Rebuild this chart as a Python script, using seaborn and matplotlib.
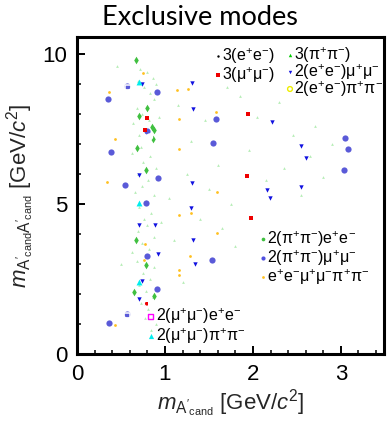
import numpy as np
import pandas as pd
import matplotlib
matplotlib.use("Agg")
import matplotlib.pyplot as plt
import seaborn as sns
from matplotlib.ticker import MultipleLocator

sns.set_theme(style="white")
plt.rcParams['font.family'] = ['Liberation Sans', 'DejaVu Sans']
plt.rcParams['mathtext.fontset'] = 'custom'
plt.rcParams['mathtext.rm'] = 'Liberation Sans'
plt.rcParams['mathtext.it'] = 'Liberation Sans:italic'
plt.rcParams['mathtext.bf'] = 'Liberation Sans:bold'

# ---------------- data ----------------
ee3_x, ee3_y = [], []

mm3_x = [0.795, 0.773, 1.94, 1.93, 1.98, 0.78]
mm3_y = [7.88, 7.47, 8.00, 5.93, 4.53, 1.67]

pp3_x = [0.72, 0.80, 0.86, 0.90, 0.76, 0.83, 0.88, 0.68, 0.74, 0.82, 0.64, 0.78, 0.71, 0.85,
         0.73, 0.83, 0.75, 0.90, 0.69, 0.81, 0.74, 0.66, 0.87, 0.78, 0.70, 0.84, 0.76, 0.80,
         0.69, 0.87, 0.74, 0.82, 0.78, 0.68, 0.88, 0.75, 0.83, 0.71, 0.79, 0.86, 0.73, 0.81,
         0.77, 0.90, 0.84, 0.69, 0.93, 0.62, 0.95, 0.63,
         1.15, 1.45, 1.30, 1.70, 1.85, 2.05, 2.30, 2.45, 2.70, 2.90, 2.65, 2.35, 1.95, 1.60,
         1.25, 1.50, 2.15, 2.80, 1.05, 1.75, 2.55, 1.40, 1.10, 1.65, 1.20, 1.80, 0.45, 0.50]
pp3_y = [9.5, 9.4, 9.2, 9.0, 8.9, 8.7, 8.5, 8.2, 8.0, 7.8, 7.7, 7.5, 7.3, 7.2,
         6.9, 6.6, 6.4, 6.2, 6.0, 5.8, 5.6, 5.4, 5.3, 5.1, 4.9, 4.7, 4.5, 4.3,
         4.1, 3.9, 3.7, 3.5, 3.3, 3.1, 2.9, 2.7, 2.5, 2.3, 2.1, 1.9, 1.7, 1.5,
         1.2, 1.0, 0.8, 9.1, 7.9, 6.7, 4.4, 3.4,
         8.3, 7.8, 7.1, 8.9, 8.6, 7.9, 8.4, 7.3, 7.6, 7.0, 6.6, 6.2, 6.8, 6.3,
         6.0, 5.5, 5.8, 5.9, 5.2, 5.0, 5.3, 4.5, 3.8, 4.2, 2.4, 3.6, 9.6, 3.0]

eemm_x = [0.735, 1.31, 1.32, 0.708, 1.31, 2.22, 2.55, 2.60, 2.55, 2.16, 2.19, 1.30,
          0.70, 0.89, 1.32, 0.92, 1.34, 0.735, 0.71]
eemm_y = [8.99, 9.02, 8.16, 5.97, 5.70, 7.72, 6.94, 6.54, 5.56, 5.48, 5.19, 4.88,
          4.29, 4.29, 3.80, 3.34, 3.01, 2.42, 1.82]

eepp_x = [0.826, 0.80, 2.01, 2.06, 2.04, 0.795]
eepp_y = [7.24, 6.68, 8.26, 6.11, 4.34, 1.68]

ppee_x = [0.67, 0.80, 0.70, 0.85, 0.87, 0.86, 0.685, 0.79, 0.675, 0.78, 0.65, 0.875]
ppee_y = [9.81, 8.21, 7.92, 7.57, 7.47, 7.18, 6.86, 6.13, 3.79, 2.98, 2.06, 1.93]

ppmm_x = [0.57, 0.355, 0.905, 1.58, 0.80, 0.385, 1.55, 0.55, 0.92, 3.05, 3.08, 3.03,
          0.785, 0.795, 1.54, 0.905, 0.57, 0.36]
ppmm_y = [8.94, 8.49, 8.72, 7.82, 7.44, 6.74, 7.04, 5.64, 5.86, 7.20, 6.84, 6.14,
          5.03, 3.28, 3.14, 2.16, 1.32, 1.04]

eemmpp_x = [0.367, 0.747, 1.133, 1.258, 1.58, 1.156, 0.432, 1.156, 0.341, 1.597, 1.156,
            1.30, 0.773, 1.59, 1.29, 0.765, 1.156, 1.156, 0.432]
eemmpp_y = [8.74, 9.37, 8.81, 8.82, 8.06, 7.83, 7.17, 6.83, 5.72, 5.40, 4.64,
            4.71, 3.66, 4.02, 3.27, 3.13, 2.80, 2.65, 0.96]

mmee_x = [0.58, 0.565, 0.57]
mmee_y = [8.89, 6.03, 1.28]

mmpp_x = [0.70, 0.705, 0.705]
mmpp_y = [9.08, 5.02, 2.41]

labels = {
    'ee3': "3(e$^{+}$e$^{-}$)",
    'mm3': "3(μ$^{+}$μ$^{-}$)",
    'pp3': "3(π$^{+}$π$^{-}$)",
    'eemm': "2(e$^{+}$e$^{-}$)μ$^{+}$μ$^{-}$",
    'eepp': "2(e$^{+}$e$^{-}$)π$^{+}$π$^{-}$",
    'ppee': "2(π$^{+}$π$^{-}$)e$^{+}$e$^{-}$",
    'ppmm': "2(π$^{+}$π$^{-}$)μ$^{+}$μ$^{-}$",
    'eemmpp': "e$^{+}$e$^{-}$μ$^{+}$μ$^{-}$π$^{+}$π$^{-}$",
    'mmee': "2(μ$^{+}$μ$^{-}$)e$^{+}$e$^{-}$",
    'mmpp': "2(μ$^{+}$μ$^{-}$)π$^{+}$π$^{-}$",
}

data = {
    'ee3': (ee3_x, ee3_y), 'mm3': (mm3_x, mm3_y), 'pp3': (pp3_x, pp3_y),
    'eemm': (eemm_x, eemm_y), 'eepp': (eepp_x, eepp_y), 'ppee': (ppee_x, ppee_y),
    'ppmm': (ppmm_x, ppmm_y), 'eemmpp': (eemmpp_x, eemmpp_y),
    'mmee': (mmee_x, mmee_y), 'mmpp': (mmpp_x, mmpp_y),
}

# ---------------- styles ----------------
styles = {
    'ee3':    dict(marker='o', s=3, color='black', linewidth=0),
    'mm3':    dict(marker='s', s=11, color='#ee0000', linewidth=0),
    'pp3':    dict(marker='^', s=4, color='#33cc33', alpha=0.35, linewidth=0),
    'eemm':   dict(marker='v', s=10, color='#1010e0', linewidth=0),
    'eepp':   dict(marker='o', s=16, color='#eeee00', facecolor='none', linewidth=1.1),
    'ppee':   dict(marker='d', s=15, color='#40c040', linewidth=0),
    'ppmm':   dict(marker='o', s=20, color='#5a5ad8', linewidth=0),
    'eemmpp': dict(marker='o', s=4, color='#ffc020', linewidth=0),
    'mmee':   dict(marker='s', s=15, color='#ff00ff', facecolor='none', linewidth=1.1),
    'mmpp':   dict(marker='^', s=18, color='#00eeee', linewidth=0),
}
legend_styles = dict(styles)
legend_styles['pp3'] = dict(marker='^', s=6, color='#00cc00', linewidth=0)
legend_styles['ppee'] = dict(marker='o', s=7, color='#40c040', linewidth=0)
legend_styles['ppmm'] = dict(marker='o', s=9, color='#5050e0', linewidth=0)
legend_styles['eemmpp'] = dict(marker='o', s=4, color='#ffc020', linewidth=0)
legend_styles['eemm'] = dict(marker='v', s=6, color='#1010e0', linewidth=0)
legend_styles['eepp'] = dict(marker='o', s=12, color='#eeee00', facecolor='none', linewidth=1.0)
legend_styles['mmee'] = dict(marker='s', s=12, color='#ff00ff', facecolor='none', linewidth=1.0)
legend_styles['mmpp'] = dict(marker='^', s=14, color='#00eeee', linewidth=0)
legend_styles['mm3'] = dict(marker='s', s=11, color='#ee0000', linewidth=0)

W, H = 387, 425
fig = plt.figure(figsize=(W / 100, H / 100), dpi=100)
ax = fig.add_axes([77 / W, 1 - 354 / H, 307 / W, 317 / H])

order = ['pp3', 'eemmpp', 'ppmm', 'ppee', 'eemm', 'mm3', 'eepp', 'mmee', 'mmpp', 'ee3']
for key in order:
    xs, ys = data[key]
    if len(xs) == 0:
        continue
    df = pd.DataFrame({'x': xs, 'y': ys})
    sns.scatterplot(data=df, x='x', y='y', ax=ax, legend=False, **styles[key])

ax.set_xlim(0, 3.49)
ax.set_ylim(0, 10.57)
ax.xaxis.set_major_locator(MultipleLocator(1))
ax.xaxis.set_minor_locator(MultipleLocator(0.2))
ax.yaxis.set_major_locator(MultipleLocator(5))
ax.yaxis.set_minor_locator(MultipleLocator(1))
ax.tick_params(which='both', direction='in', top=False, right=False,
               bottom=True, left=True, colors='black', labelsize=16)
ax.tick_params(which='major', length=6, width=1.4, pad=7)
ax.tick_params(which='minor', length=3, width=1.1)
for sp in ax.spines.values():
    sp.set_linewidth(2.2)
    sp.set_color('black')

ax.set_xlabel(r"$m_{\mathrm{A'_{cand}}}$ [GeV/$c^{2}$]", fontsize=16, labelpad=2)
ax.set_ylabel(r"$m_{\mathrm{A'_{cand}A'_{cand}}}$ [GeV/$c^{2}$]", fontsize=16, labelpad=4)

fig.text(0.516, 0.958, "Exclusive modes", fontsize=19.5, family=['Lato', 'DejaVu Sans'],
         ha='center', va='center', color='black')

# ---------------- legends (ROOT-style text blocks) ----------------
def fx(px):
    return (px - 77) / 307

def fy(py):
    return (354 - py) / 317

legend_groups = [
    (218, 222, [('ee3', 56), ('mm3', 75)]),
    (290, 294, [('pp3', 55), ('eemm', 72), ('eepp', 89)]),
    (263, 267, [('ppee', 239), ('ppmm', 258), ('eemmpp', 277)]),
    (150.7, 155.5, [('mmee', 316.7), ('mmpp', 336)]),
]
for mx, tx, entries in legend_groups:
    for key, py in entries:
        ax.scatter([fx(mx)], [fy(py)], transform=ax.transAxes, clip_on=False,
                   zorder=5, **legend_styles[key])
        ax.text(fx(tx), fy(py), labels[key], transform=ax.transAxes, fontsize=11.5,
                ha='left', va='center', color='black')

fig.savefig("out.png", dpi=100)
